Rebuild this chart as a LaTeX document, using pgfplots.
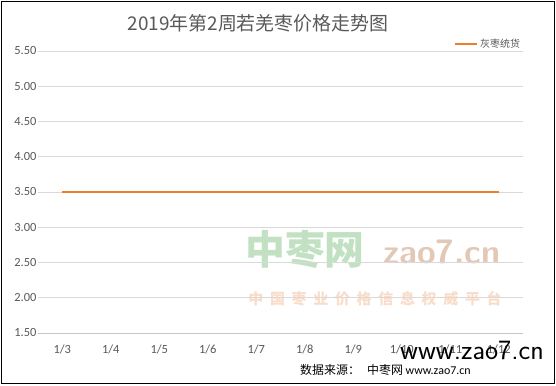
\documentclass[border=0pt]{standalone}
\usepackage{pgfplots}
\pgfplotsset{compat=1.18}
\usepackage{fontspec}
\setmainfont{Carlito}
\newfontfamily\cjk{Noto Sans CJK SC}
\newfontfamily\cjkspaced[LetterSpace=45]{Noto Sans CJK SC}
\definecolor{txtgray}{RGB}{89,89,89}
\definecolor{gridgray}{RGB}{217,217,217}
\definecolor{lineorange}{RGB}{237,125,49}
\definecolor{wmgreen}{RGB}{120,190,120}
\definecolor{wmorange}{RGB}{240,170,120}
\begin{document}
\begin{tikzpicture}[x=1bp,y=1bp]
\useasboundingbox (0,0) rectangle (556,385);
\fill[white] (0,0) rectangle (556,385);
% watermark
\node[text=wmgreen,opacity=0.45,font=\cjk\fontsize{40}{40}\selectfont\bfseries] at (305,135) {中枣网};
\node[text=wmorange!80!black,opacity=0.45,font=\sffamily\fontsize{34}{34}\selectfont\bfseries] at (442,133) {zao7.cn};
\node[text=wmorange,opacity=0.4,font=\cjkspaced\fontsize{15}{15}\selectfont\bfseries] at (375,86) {中国枣业价格信息权威平台};
\begin{axis}[
  at={(38bp,52bp)}, anchor=south west,
  scale only axis, width=485bp, height=282bp,
  xmin=-0.5, xmax=9.5, ymin=1.5, ymax=5.5,
  ytick={1.5,2,...,5.5},
  yticklabel style={/pgf/number format/fixed,/pgf/number format/fixed zerofill,/pgf/number format/precision=2, xshift=2bp},
  /pgf/number format/assume math mode=true,
  ymajorgrids, grid style={gridgray, line width=0.75bp},
  xtick={0,...,9},
  xticklabels={1/3,1/4,1/5,1/6,1/7,1/8,1/9,1/10,1/11,1/12},
  extra x ticks={-0.5,0.5,...,9.5},
  extra x tick labels={},
  extra x tick style={major tick length=5bp, tick style={gridgray!80!gray, line width=0.75bp}},
  axis x line*=bottom, axis y line*=left,
  x axis line style={gridgray!80!gray, line width=0.75bp, -},
  y axis line style={draw=none},
  xtick style={draw=none}, ytick style={draw=none},
  tick label style={text=txtgray, font=\fontsize{12.5}{14}\selectfont},
  xticklabel style={yshift=-8bp},
  clip=false,
]
\addplot[lineorange, line width=2.5bp] coordinates {
(0,3.5) (1,3.5) (2,3.5) (3,3.5) (4,3.5) (5,3.5) (6,3.5) (7,3.5) (8,3.5) (9,3.5)};
\end{axis}
% title
\node[text=txtgray,font=\cjk\fontsize{19}{19}\selectfont] at (258,362) {2019年第2周若羌枣价格走势图};
% legend
\draw[lineorange, line width=2.5bp] (455,341) -- (477,341);
\node[anchor=west,text=txtgray,font=\cjk\fontsize{10}{10}\selectfont,inner sep=1bp] at (479,341) {灰枣统货};
% overlay watermark
\node[text=black,font=\sffamily\fontsize{28}{28}\selectfont] at (472,35) {www.zao7.cn};
\node[anchor=west,text=black,font=\cjk\fontsize{12}{12}\selectfont,inner sep=0pt] at (300,15) {数据来源：\hspace{0.6em}中枣网 {\rmfamily www.zao7.cn}};
% frame
\draw[black, line width=1.5bp] (1.5,1.5) rectangle (554.5,383.5);
\end{tikzpicture}
\end{document}
